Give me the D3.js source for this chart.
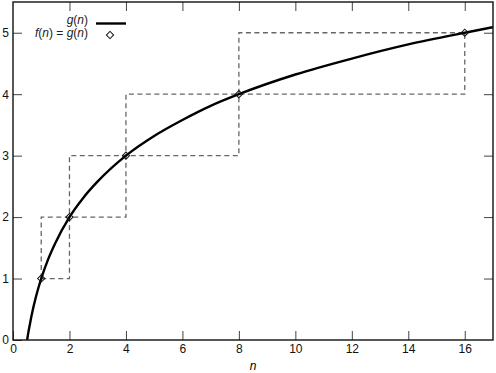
<!DOCTYPE html>
<html>
<head>
<meta charset="utf-8">
<script src="https://cdn.jsdelivr.net/npm/d3@7"></script>
<style>
  html, body { margin: 0; padding: 0; background: #fff; }
  svg { display: block; font-family: "Liberation Sans", Arial, sans-serif; }
  .tick text { font-size: 12px; fill: #111; }
  .tick line { stroke: #444; }
</style>
</head>
<body>
<svg id="chart" width="496" height="373"></svg>
<script>
// values
const powers = [1, 2, 4, 8, 16]
const levels = [1, 2, 3, 4, 5]
const curveN = [0.5, 0.55, 0.6, 0.65, 0.7, 0.8, 0.9, 1, 1.25, 1.5, 2, 2.5, 3, 4, 5, 6, 7, 8, 10, 12, 14, 16, 17]
const curveG = [0, 0.14, 0.26, 0.38, 0.49, 0.68, 0.85, 1, 1.32, 1.58, 2, 2.32, 2.58, 3, 3.32, 3.58, 3.81, 4, 4.32, 4.58, 4.81, 5, 5.09]
const xTicks = [0, 2, 4, 6, 8, 10, 12, 14, 16]
const yTicks = [0, 1, 2, 3, 4, 5]

const width = 496
const height = 373
const margin = { top: 2, right: 3, bottom: 33, left: 13 }

const svg = d3.select('#chart')

const x = d3.scaleLinear().domain([0, 17]).range([margin.left, width - margin.right])
const y = d3.scaleLinear().domain([0, 5.5]).range([height - margin.bottom, margin.top])

const steps = powers.map((p, i) => [p, levels[i]])
const curve = curveN.map((n, i) => [n, curveG[i]])

// axes, ticks pointing inward, mirrored on top and right
svg.append('g')
  .attr('transform', `translate(0,${y(0)})`)
  .call(d3.axisBottom(x).tickValues(xTicks).tickSizeInner(-9).tickSizeOuter(0).tickPadding(4).tickFormat(d3.format('d')))
  .call(g => g.select('.domain').remove())

svg.append('g')
  .attr('transform', `translate(0,${y(5.5)})`)
  .call(d3.axisTop(x).tickValues(xTicks.filter(d => d > 0)).tickSizeInner(-9).tickSizeOuter(0).tickFormat(''))
  .call(g => g.select('.domain').remove())

svg.append('g')
  .attr('transform', `translate(${x(0)},0)`)
  .call(d3.axisLeft(y).tickValues(yTicks).tickSizeInner(-9).tickSizeOuter(0).tickPadding(4).tickFormat(d3.format('d')))
  .call(g => g.select('.domain').remove())

svg.append('g')
  .attr('transform', `translate(${x(17)},0)`)
  .call(d3.axisRight(y).tickValues(yTicks.filter(d => d > 0)).tickSizeInner(-9).tickSizeOuter(0).tickFormat(''))
  .call(g => g.select('.domain').remove())

svg.append('text')
  .attr('x', x(8.5))
  .attr('y', 370)
  .attr('text-anchor', 'middle')
  .attr('font-size', 12)
  .attr('font-style', 'italic')
  .text('n')

// dashed floor / ceiling steps
const stepLine = c => d3.line().x(d => x(d[0])).y(d => y(d[1])).curve(c)

svg.selectAll('path.step')
  .data([d3.curveStepAfter, d3.curveStepBefore])
  .enter()
  .append('path')
  .attr('class', 'step')
  .attr('d', c => stepLine(c)(steps))
  .attr('fill', 'none')
  .attr('stroke', '#666')
  .attr('stroke-width', 1.3)
  .attr('stroke-dasharray', '5,3.5')

// g(n)
svg.append('path')
  .datum(curve)
  .attr('d', d3.line().x(d => x(d[0])).y(d => y(d[1])).curve(d3.curveMonotoneX))
  .attr('fill', 'none')
  .attr('stroke', '#000')
  .attr('stroke-width', 2.4)

const diamond = d3.symbol(d3.symbolSquare, 26)

svg.selectAll('path.point')
  .data(steps)
  .enter()
  .append('path')
  .attr('class', 'point')
  .attr('d', diamond)
  .attr('transform', d => `translate(${x(d[0])},${y(d[1])}) rotate(45)`)
  .attr('fill', 'none')
  .attr('stroke', '#111')
  .attr('stroke-width', 1)

// frame
svg.append('rect')
  .attr('x', x(0))
  .attr('y', y(5.5))
  .attr('width', x(17) - x(0))
  .attr('height', y(0) - y(5.5))
  .attr('fill', 'none')
  .attr('stroke', '#111')
  .attr('stroke-width', 1.4)

// legend
const legend = svg.append('g').attr('font-size', 12).attr('fill', '#222')

const label = (yPos, parts) => {
  const t = legend.append('text')
    .attr('x', 88)
    .attr('y', yPos)
    .attr('text-anchor', 'end')
  parts.forEach(([s, italic]) => {
    t.append('tspan').attr('font-style', italic ? 'italic' : 'normal').text(s)
  })
}

label(24, [['g', 1], ['(', 0], ['n', 1], [')', 0]])
label(37, [['f', 1], ['(', 0], ['n', 1], [') = ', 0], ['g', 1], ['(', 0], ['n', 1], [')', 0]])

legend.append('line')
  .attr('x1', 96).attr('x2', 126)
  .attr('y1', 23.5).attr('y2', 23.5)
  .attr('stroke', '#000')
  .attr('stroke-width', 2.4)

legend.append('path')
  .attr('d', diamond)
  .attr('transform', 'translate(110,35) rotate(45)')
  .attr('fill', 'none')
  .attr('stroke', '#111')
</script>
</body>
</html>
